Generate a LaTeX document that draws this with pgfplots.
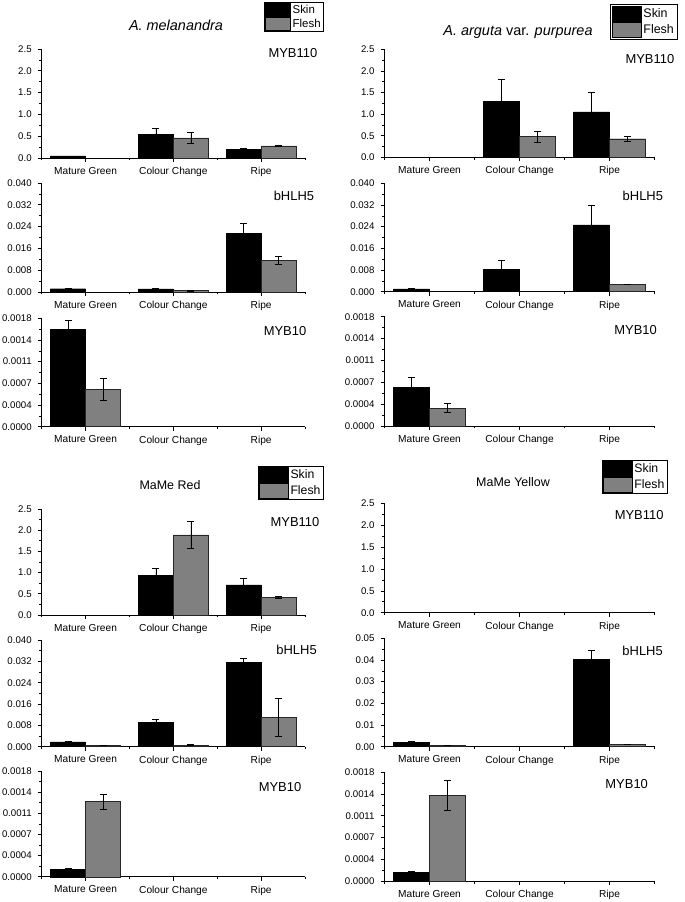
\documentclass[border=0pt]{standalone}
\usepackage{pgfplots}
\pgfplotsset{compat=1.18}
\usepackage{fontspec}
\setmainfont{Liberation Sans}
\definecolor{fleshgray}{RGB}{128,128,128}
\tikzset{gene/.style={font=\fontsize{13}{14}\selectfont}}
\pgfplotsset{
 gstyle/.style={
  scale only axis, axis lines*=left, anchor=south west,
  xmin=-0.5, xmax=2.5, xtick={0,1,2},
  xticklabels={Mature Green, Colour Change, Ripe},
  minor xtick={-0.5,0.5,1.5,2.5},
  tick align=outside, major tick length=4bp, minor tick length=2.5bp,
  ymin=0, minor y tick num=1,
  ybar, bar width=0.4,
  every tick/.style={black, line width=0.6bp},
  axis line style={line width=0.8bp, black},
  xticklabel style={font=\fontsize{10.2}{11}\selectfont, yshift=-1.5bp},
  yticklabel style={font=\fontsize{9.7}{10}\selectfont, xshift=-2.5bp},
  /pgf/number format/assume math mode=true,
  clip=false, scaled y ticks=false,
  error bars/error bar style={line width=0.5bp, black},
  error bars/error mark options={black, line width=0.5bp, mark size=3.5bp, rotate=90},
  legend image code/.code={\draw[#1, draw=black, line width=0.4bp] (0bp,-6.4bp) rectangle (25bp,6.4bp);},
 },
 skin/.style={fill=black, draw=black, line width=0.4bp, bar shift=-0.2},
 flesh/.style={fill=fleshgray, draw=black!85, line width=0.4bp, bar shift=0.2},
 myb110/.style={ymax=2.5, ytick={0,0.5,1,1.5,2,2.5}, yticklabels={0.0,0.5,1.0,1.5,2.0,2.5}},
 bhlh/.style={ymax=0.04, ytick={0,0.008,0.016,0.024,0.032,0.04}, yticklabels={0.000,0.008,0.016,0.024,0.032,0.040}},
 myb10/.style={ymax=0.0018, ytick={0,0.00036,0.00072,0.00108,0.00144,0.0018}, yticklabels={0.0000,0.0004,0.0007,0.0011,0.0014,0.0018}},
 leg/.style={legend style={at={#1}, anchor=north west, draw=black, line width=0.6bp, inner sep=1bp, row sep=0bp,
   font=\fontsize{11.5}{12}\selectfont, cells={anchor=west},
   /tikz/every even column/.append style={column sep=2bp}}},
 bigleg/.style={legend style={font=\fontsize{12.5}{13}\selectfont, inner sep=1.8bp, row sep=1.2bp},
   legend image code/.code={\draw[##1, draw=black, line width=0.4bp] (0bp,-7.3bp) rectangle (29bp,7.3bp);}},
}
\begin{document}
\begin{tikzpicture}
\path[use as bounding box] (0,0) rectangle (685bp,902bp);
% titles
\node[font=\fontsize{14.5}{15}\selectfont] at (176bp,877bp) {\textit{A. melanandra}};
\node[font=\fontsize{14.5}{15}\selectfont] at (518bp,870bp) {\textit{A. arguta} var. \textit{purpurea}};
\node[font=\fontsize{12.5}{14}\selectfont] at (170bp,417bp) {MaMe Red};
\node[font=\fontsize{12.5}{14}\selectfont] at (513bp,420bp) {MaMe Yellow};

% ===== Top-left: A. melanandra =====
\begin{axis}[gstyle, myb110, at={(41.7bp,744bp)}, width=263.3bp, height=109bp, leg={(0.844,1.434)}]
\addplot[skin, error bars/.cd, y dir=both, y explicit] coordinates {(0,0.05) +- (0,0) (1,0.55) +- (0,0.14) (2,0.20) +- (0,0.03)};
\addplot[flesh, error bars/.cd, y dir=both, y explicit] coordinates {(1,0.46) +- (0,0.12) (2,0.28) +- (0,0.02)};
\legend{Skin,Flesh}
\node[gene] at (rel axis cs:0.954,0.965) {MYB110};
\end{axis}
\begin{axis}[gstyle, bhlh, at={(41.7bp,610bp)}, width=263.3bp, height=109bp]
\addplot[skin, error bars/.cd, y dir=both, y explicit] coordinates {(0,0.0012) +- (0,0.0002) (1,0.0011) +- (0,0.0002) (2,0.0214) +- (0,0.0038)};
\addplot[flesh, error bars/.cd, y dir=both, y explicit] coordinates {(1,0.0006) +- (0,0.0002) (2,0.0117) +- (0,0.0016)};
\node[gene] at (rel axis cs:0.958,0.885) {bHLH5};
\end{axis}
\begin{axis}[gstyle, myb10, at={(41.7bp,475.3bp)}, width=263.3bp, height=108.4bp]
\addplot[skin, error bars/.cd, y dir=both, y explicit] coordinates {(0,0.00162) +- (0,0.00014)};
\addplot[flesh, error bars/.cd, y dir=both, y explicit] coordinates {(0,0.00062) +- (0,0.00018)};
\node[gene] at (rel axis cs:0.924,0.887) {MYB10};
\end{axis}

% ===== Top-right: A. arguta var. purpurea =====
\begin{axis}[gstyle, myb110, at={(384.5bp,744.7bp)}, width=270bp, height=108bp, leg={(0.835,1.42)}, bigleg]
\addplot[skin, error bars/.cd, y dir=both, y explicit] coordinates {(1,1.30) +- (0,0.51) (2,1.05) +- (0,0.45)};
\addplot[flesh, error bars/.cd, y dir=both, y explicit] coordinates {(1,0.48) +- (0,0.13) (2,0.43) +- (0,0.05)};
\legend{Skin,Flesh}
\node[gene] at (rel axis cs:0.983,0.906) {MYB110};
\end{axis}
\begin{axis}[gstyle, bhlh, at={(384.5bp,610.3bp)}, width=270bp, height=108.4bp]
\addplot[skin, error bars/.cd, y dir=both, y explicit] coordinates {(0,0.0010) +- (0,0.0002) (1,0.0082) +- (0,0.0034) (2,0.0247) +- (0,0.0073)};
\addplot[flesh, error bars/.cd, y dir=both, y explicit] coordinates {(2,0.0028) +- (0,0)};
\node[gene] at (rel axis cs:0.957,0.885) {bHLH5};
\end{axis}
\begin{axis}[gstyle, myb10, at={(384.5bp,476bp)}, width=270bp, height=109.3bp]
\addplot[skin, error bars/.cd, y dir=both, y explicit] coordinates {(0,0.00064) +- (0,0.00016)};
\addplot[flesh, error bars/.cd, y dir=both, y explicit] coordinates {(0,0.00030) +- (0,0.00007)};
\node[gene] at (rel axis cs:0.93,0.876) {MYB10};
\end{axis}

% ===== Bottom-left: MaMe Red =====
\begin{axis}[gstyle, myb110, at={(41.7bp,287bp)}, width=263.3bp, height=106bp, leg={(0.820,1.406)}, bigleg,
  legend style={font=\fontsize{12.3}{13}\selectfont, inner sep=1.2bp, row sep=0.5bp}]
\addplot[skin, error bars/.cd, y dir=both, y explicit] coordinates {(1,0.94) +- (0,0.16) (2,0.71) +- (0,0.15)};
\addplot[flesh, error bars/.cd, y dir=both, y explicit] coordinates {(1,1.89) +- (0,0.32) (2,0.42) +- (0,0.03)};
\legend{Skin,Flesh}
\node[gene] at (rel axis cs:0.962,0.877) {MYB110};
\end{axis}
\begin{axis}[gstyle, bhlh, at={(41.7bp,155.3bp)}, width=263.3bp, height=106.7bp]
\addplot[skin, error bars/.cd, y dir=both, y explicit] coordinates {(0,0.0018) +- (0,0.0001) (1,0.0092) +- (0,0.0010) (2,0.0315) +- (0,0.0018)};
\addplot[flesh, error bars/.cd, y dir=both, y explicit] coordinates {(0,0.0004) +- (0,0) (1,0.0006) +- (0,0.0002) (2,0.0110) +- (0,0.0072)};
\node[gene] at (rel axis cs:0.968,0.906) {bHLH5};
\end{axis}
\begin{axis}[gstyle, myb10, at={(41.7bp,25.3bp)}, width=263.3bp, height=105.7bp]
\addplot[skin, error bars/.cd, y dir=both, y explicit] coordinates {(0,0.00013) +- (0,0.00002)};
\addplot[flesh, error bars/.cd, y dir=both, y explicit] coordinates {(0,0.00128) +- (0,0.00013)};
\node[gene] at (rel axis cs:0.905,0.847) {MYB10};
\end{axis}

% ===== Bottom-right: MaMe Yellow =====
\begin{axis}[gstyle, myb110, at={(384.5bp,289.3bp)}, width=270bp, height=109.4bp, leg={(0.804,1.396)}, bigleg,
  legend style={font=\fontsize{12.3}{13}\selectfont, inner sep=1.2bp, row sep=0.5bp}]
\addlegendimage{skin}
\addlegendimage{flesh}
\addplot[skin, draw=none, fill=none, forget plot] coordinates {(0,0) (1,0) (2,0)};
\addplot[flesh, draw=none, fill=none, forget plot] coordinates {(0,0) (1,0) (2,0)};
\legend{Skin,Flesh}
\node[gene] at (rel axis cs:0.943,0.893) {MYB110};
\end{axis}
\begin{axis}[gstyle, ymax=0.05, ytick={0,0.01,0.02,0.03,0.04,0.05}, yticklabels={0.00,0.01,0.02,0.03,0.04,0.05},
  at={(384.5bp,155.3bp)}, width=270bp, height=108.4bp]
\addplot[skin, error bars/.cd, y dir=both, y explicit] coordinates {(0,0.0020) +- (0,0.0003) (2,0.0403) +- (0,0.0040)};
\addplot[flesh, error bars/.cd, y dir=both, y explicit] coordinates {(0,0.0005) +- (0,0) (2,0.0010) +- (0,0)};
\node[gene] at (rel axis cs:0.956,0.887) {bHLH5};
\end{axis}
\begin{axis}[gstyle, myb10, at={(384.5bp,21bp)}, width=270bp, height=108.7bp]
\addplot[skin, error bars/.cd, y dir=both, y explicit] coordinates {(0,0.000144) +- (0,0.00002)};
\addplot[flesh, error bars/.cd, y dir=both, y explicit] coordinates {(0,0.00142) +- (0,0.00025)};
\node[gene] at (rel axis cs:0.897,0.89) {MYB10};
\end{axis}
\end{tikzpicture}
\end{document}
